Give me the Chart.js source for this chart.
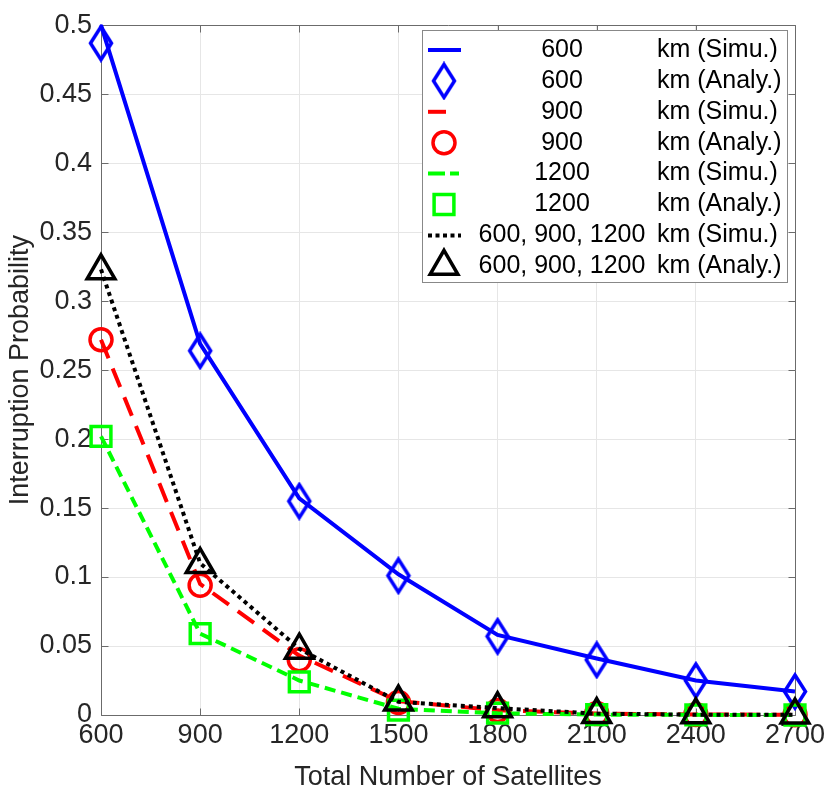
<!DOCTYPE html>
<html>
<head>
<meta charset="utf-8">
<script src="https://cdn.jsdelivr.net/npm/chart.js"></script>
<style>
  html, body { margin: 0; padding: 0; background: #fff; }
  #wrap { width: 831px; height: 797px; }
</style>
</head>
<body>
<div id="wrap"><canvas id="chart"></canvas></div>
<script>
// x positions (total number of satellites) and axis ticks
var satellites = [600, 900, 1200, 1500, 1800, 2100, 2400, 2700];
var xTicks = [600, 900, 1200, 1500, 1800, 2100, 2400, 2700];
var yTicks = [0, 0.05, 0.1, 0.15, 0.2, 0.25, 0.3, 0.35, 0.4, 0.45, 0.5];

// interruption probability
var simu600   = [0.500, 0.269, 0.157, 0.102, 0.058, 0.041, 0.025, 0.017];
var analy600  = [0.487, 0.264, 0.155, 0.101, 0.057, 0.040, 0.025, 0.017];
var simu900   = [0.272, 0.095, 0.043, 0.010, 0.0035, 0.001, 0.0004, 0.0002];
var analy900  = [0.272, 0.094, 0.040, 0.009, 0.0033, 0.001, 0.0004, 0.0002];
var simu1200  = [0.202, 0.059, 0.025, 0.0045, 0.0012, 0.0003, 0.0001, 0];
var analy1200 = [0.202, 0.059, 0.024, 0.0036, 0.0013, 0.0003, 0.0001, 0];
var simuAll   = [0.323, 0.110, 0.048, 0.0095, 0.005, 0.001, 0.0002, 0.0001];
var analyAll  = [0.322, 0.109, 0.047, 0.0094, 0.0045, 0.0003, 0.0001, 0];

// legend text columns
var legendAlt = ['600', '600', '900', '900', '1200', '1200', '600, 900, 1200', '600, 900, 1200'];
var legendKind = ['km (Simu.)', 'km (Analy.)', 'km (Simu.)', 'km (Analy.)', 'km (Simu.)', 'km (Analy.)', 'km (Simu.)', 'km (Analy.)'];

var FONT = '"Liberation Sans", Arial, Helvetica, sans-serif';
var LW = 4, MW = 3.5;

function pairs(values) {
  return satellites.map(function(x, i) { return { x: x, y: values[i] }; });
}

// tall diamond like matlab's 'd' marker
function makeDiamond(color) {
  var c = document.createElement('canvas');
  c.width = 28; c.height = 39;
  var g = c.getContext('2d');
  g.strokeStyle = color;
  g.lineWidth = MW;
  g.lineJoin = 'miter';
  g.beginPath();
  g.moveTo(14, 3); g.lineTo(24.5, 19.5); g.lineTo(14, 36); g.lineTo(3.5, 19.5);
  g.closePath();
  g.stroke();
  return c;
}
var diamond = makeDiamond('#0000ff');

function lineSet(label, values, color, dash, legendDash) {
  return {
    type: 'line', label: label, data: pairs(values),
    borderColor: color, borderWidth: LW, borderDash: dash, borderCapStyle: 'butt',
    pointRadius: 0, fill: false, tension: 0, clip: false,
    legendDash: legendDash
  };
}
function markSet(label, values, color, style, radius) {
  return {
    type: 'line', label: label, data: pairs(values), showLine: false,
    pointStyle: style, pointRadius: radius, pointBorderColor: color,
    pointBorderWidth: MW, pointBackgroundColor: 'rgba(0,0,0,0)', clip: false
  };
}

var datasets = [
  lineSet('600 km (Simu.)', simu600, '#0000ff', [], []),
  markSet('600 km (Analy.)', analy600, '#0000ff', diamond, 16),
  lineSet('900 km (Simu.)', simu900, '#ff0000', [20, 11], [18, 40]),
  markSet('900 km (Analy.)', analy900, '#ff0000', 'circle', 11),
  lineSet('1200 km (Simu.)', simu1200, '#00ff00', [11, 6], [17, 5, 9, 20]),
  markSet('1200 km (Analy.)', analy1200, '#00ff00', 'rect', 14),
  lineSet('600, 900, 1200 km (Simu.)', simuAll, '#000000', [4, 4], [4, 3.5]),
  markSet('600, 900, 1200 km (Analy.)', analyAll, '#000000', 'triangle', 16)
];
// later series drawn on top, as in the original
datasets.forEach(function(d, i) { d.order = datasets.length - i; });

function drawMarker(ctx, style, r, x, y, color) {
  if (typeof style !== 'string') {
    ctx.drawImage(style, x - style.width / 2, y - style.height / 2);
    return;
  }
  ctx.strokeStyle = color;
  ctx.lineWidth = MW;
  ctx.setLineDash([]);
  ctx.beginPath();
  if (style === 'circle') {
    ctx.arc(x, y, r, 0, Math.PI * 2);
  } else if (style === 'rect') {
    var s = Math.SQRT1_2 * r;
    ctx.rect(x - s, y - s, 2 * s, 2 * s);
  } else if (style === 'triangle') {
    var a = 0;
    for (var k = 0; k < 3; k++) {
      var px = x + Math.sin(a) * r, py = y - Math.cos(a) * r;
      if (k === 0) ctx.moveTo(px, py); else ctx.lineTo(px, py);
      a += Math.PI * 2 / 3;
    }
    ctx.closePath();
  }
  ctx.stroke();
}

var frameAndLegend = {
  id: 'frameAndLegend',
  beforeDatasetsDraw: function(chart) {
    var ctx = chart.ctx, a = chart.chartArea;
    var xs = chart.scales.x, ys = chart.scales.y;
    ctx.save();
    ctx.strokeStyle = '#6b6b6b';
    ctx.lineWidth = 1;
    ctx.beginPath();
    var L = Math.round(a.left) + 0.5, R = Math.round(a.right) + 0.5;
    var T = Math.round(a.top) + 0.5, B = Math.round(a.bottom) + 0.5;
    ctx.rect(L, T, R - L, B - T);
    xTicks.forEach(function(v) {
      var px = Math.round(xs.getPixelForValue(v)) + 0.5;
      ctx.moveTo(px, B); ctx.lineTo(px, B - 7);
      ctx.moveTo(px, T); ctx.lineTo(px, T + 7);
    });
    yTicks.forEach(function(v) {
      var py = Math.round(ys.getPixelForValue(v)) + 0.5;
      ctx.moveTo(L, py); ctx.lineTo(L + 7, py);
      ctx.moveTo(R, py); ctx.lineTo(R - 7, py);
    });
    ctx.stroke();
    ctx.restore();
  },
  afterDraw: function(chart) {
    var ctx = chart.ctx;
    var box = { left: 422, top: 30, right: 787, bottom: 282 };
    var rowY0 = 50, rowH = 30.9, symX = 444, altX = 562, kindX = 657;
    ctx.save();
    ctx.fillStyle = '#ffffff';
    ctx.fillRect(box.left, box.top, box.right - box.left, box.bottom - box.top);
    ctx.strokeStyle = '#888888';
    ctx.lineWidth = 1;
    ctx.strokeRect(box.left + 0.5, box.top + 0.5, box.right - box.left, box.bottom - box.top);
    ctx.font = '25px ' + FONT;
    ctx.textBaseline = 'middle';
    chart.data.datasets.forEach(function(d, i) {
      var y = rowY0 + i * rowH;
      if (d.showLine === false) {
        drawMarker(ctx, d.pointStyle, d.pointRadius, symX, y, d.pointBorderColor);
      } else {
        ctx.strokeStyle = d.borderColor;
        ctx.lineWidth = LW;
        ctx.lineCap = 'butt';
        ctx.setLineDash(d.legendDash);
        ctx.beginPath();
        ctx.moveTo(428, y); ctx.lineTo(461, y);
        ctx.stroke();
        ctx.setLineDash([]);
      }
      ctx.fillStyle = '#000000';
      ctx.textAlign = 'center';
      ctx.fillText(legendAlt[i], altX, y);
      ctx.textAlign = 'left';
      ctx.fillText(legendKind[i], kindX, y);
    });
    ctx.restore();
  }
};

var ctx = document.getElementById('chart').getContext('2d');
var chart = new Chart(ctx, {
  type: 'line',
  data: { datasets: datasets },
  plugins: [frameAndLegend],
  options: {
    responsive: true,
    maintainAspectRatio: false,
    animation: false,
    layout: { padding: { top: 22, right: 36, left: 0, bottom: 0 } },
    plugins: { legend: { display: false }, tooltip: { enabled: false } },
    scales: {
      x: {
        type: 'linear', min: 600, max: 2700,
        afterBuildTicks: function(s) { s.ticks = xTicks.map(function(v) { return { value: v }; }); },
        afterFit: function(s) { s.height = 82; },
        grid: { color: '#e6e6e6', drawTicks: false },
        border: { display: false },
        ticks: {
          autoSkip: false, maxRotation: 0, padding: 4, color: '#262626',
          font: { family: FONT, size: 27 },
          callback: function(v) { return String(v); }
        },
        title: {
          display: true, text: 'Total Number of Satellites', color: '#262626',
          font: { family: FONT, size: 27 }, padding: { top: 0, bottom: 3 }
        }
      },
      y: {
        type: 'linear', min: 0, max: 0.5,
        afterBuildTicks: function(s) { s.ticks = yTicks.map(function(v) { return { value: v }; }); },
        afterFit: function(s) { s.width = 101; },
        grid: { color: '#e6e6e6', drawTicks: false },
        border: { display: false },
        ticks: {
          padding: 9, color: '#262626',
          font: { family: FONT, size: 27 },
          callback: function(v) { return String(v); }
        },
        title: {
          display: true, text: 'Interruption Probability', color: '#262626',
          font: { family: FONT, size: 27 }, padding: { top: 4, bottom: 0 }
        }
      }
    }
  }
});
</script>
</body>
</html>
